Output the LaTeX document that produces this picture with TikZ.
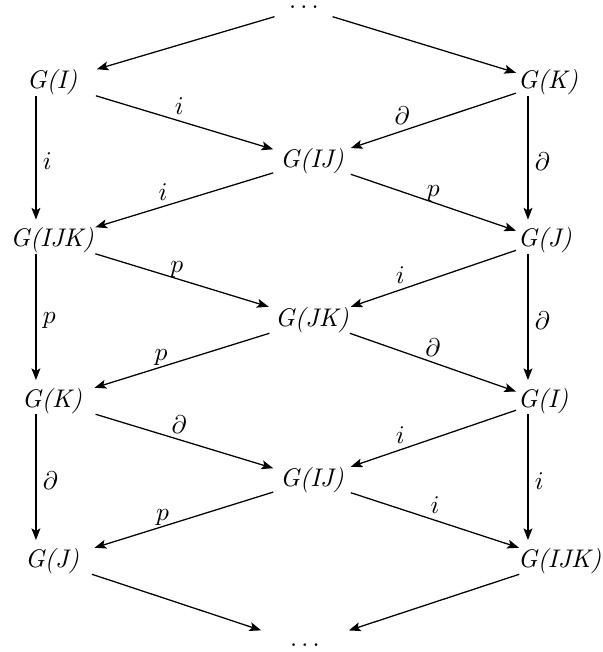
\documentclass[tikz,border=0pt]{standalone}
\usetikzlibrary{arrows.meta}
\begin{document}
\begin{tikzpicture}[x=0.3922pt,y=-0.3922pt,
  lcol/.style={inner sep=0pt, minimum width=36pt},
  mcol/.style={inner xsep=2.5pt, inner ysep=0pt},
  rcol/.style={anchor=west, inner xsep=0.5pt, inner ysep=0pt},
  dotsbox/.style={anchor=base, inner xsep=0pt, inner ysep=1pt},
  arr/.style={-{Stealth[length=4.6pt,width=3.5pt,inset=1pt]}, line width=0.5pt},
  varr/.style={arr, shorten >=3pt},
  lab/.style={anchor=base, inner sep=0pt, yshift=2.5pt},
  vlab/.style={right, inner sep=2.5pt}]
\useasboundingbox (0,0) rectangle (603,652);
% nodes
\node[dotsbox, minimum width=27pt] (dt) at (304,13.6) {$\cdots$};
\node[lcol] (a1) at (52,82.5) {\textit{G(I)}};
\node[rcol] (b1) at (516,82.5) {\textit{G(K)}};
\node[mcol] (m1) at (312,161) {\textit{G(IJ)}};
\node[lcol] (a2) at (52,240.5) {\textit{G(IJK)}};
\node[rcol] (b2) at (516,240.5) {\textit{G(J)}};
\node[mcol] (m2) at (312,320) {\textit{G(JK)}};
\node[lcol] (a3) at (52,401) {\textit{G(K)}};
\node[rcol] (b3) at (516,401) {\textit{G(I)}};
\node[mcol] (m3) at (312,480) {\textit{G(IJ)}};
\node[lcol] (a4) at (52,561) {\textit{G(J)}};
\node[rcol] (b4) at (516,561) {\textit{G(IJK)}};
\node[dotsbox, minimum width=34pt] (db) at (305,651) {\strut$\cdots$};
% top
\draw[arr] (dt) -- (a1);
\draw[arr] (dt) -- (b1);
% row 1 -> middle 1
\draw[arr] (a1) -- node[lab,pos=0.47] {$i$} (m1);
\draw[arr] (b1) -- node[lab,pos=0.69] {$\partial$} (m1);
% verticals 1
\draw[varr] ([xshift=-6.3pt]a1.south) -- node[vlab] {$i$} ([xshift=-6.3pt]a2.north);
\draw[varr] ([xshift=4.7pt]b1.south west) -- node[vlab] {$\partial$} ([xshift=4.7pt]b2.north west);
% middle 1 -> row 2
\draw[arr] (m1) -- node[lab,pos=0.62] {$i$} (a2);
\draw[arr] (m1) -- node[lab,pos=0.5] {$p$} (b2);
% row 2 -> middle 2
\draw[arr] (a2) -- node[lab,pos=0.47] {$p$} (m2);
\draw[arr] (b2) -- node[lab,pos=0.7] {$i$} (m2);
% verticals 2
\draw[varr] ([xshift=-6.3pt]a2.south) -- node[vlab] {$p$} ([xshift=-6.3pt]a3.north);
\draw[varr] ([xshift=4.7pt]b2.south west) -- node[vlab] {$\partial$} ([xshift=4.7pt]b3.north west);
% middle 2 -> row 3
\draw[arr] (m2) -- node[lab,pos=0.62] {$p$} (a3);
\draw[arr] (m2) -- node[lab,pos=0.5] {$\partial$} (b3);
% row 3 -> middle 3
\draw[arr] (a3) -- node[lab,pos=0.47] {$\partial$} (m3);
\draw[arr] (b3) -- node[lab,pos=0.7] {$i$} (m3);
% verticals 3
\draw[varr] ([xshift=-6.3pt]a3.south) -- node[vlab] {$\partial$} ([xshift=-6.3pt]a4.north);
\draw[varr] ([xshift=4.7pt]b3.south west) -- node[vlab] {$i$} ([xshift=4.7pt]b4.north west);
% middle 3 -> row 4
\draw[arr] (m3) -- node[lab,pos=0.62] {$p$} (a4);
\draw[arr] (m3) -- node[lab,pos=0.5] {$i$} (b4);
% bottom
\draw[arr] (a4) -- (db);
\draw[arr] (b4) -- (db);
\end{tikzpicture}
\end{document}
